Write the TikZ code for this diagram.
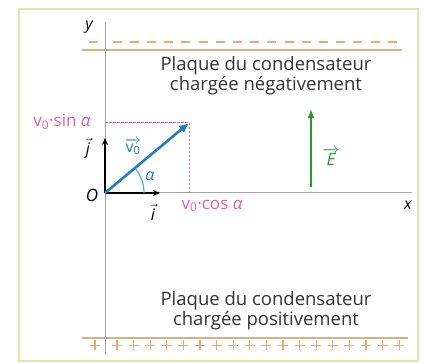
\RequirePackage{fix-cm}
\documentclass[tikz,border=0pt]{standalone}
\usepackage{fontspec}
\setmainfont{Open Sans}
\usetikzlibrary{arrows.meta}
\definecolor{framegreen}{RGB}{220,232,165}
\definecolor{platetan}{RGB}{215,178,135}
\definecolor{chargeorange}{RGB}{236,170,115}
\definecolor{axisgray}{RGB}{165,165,165}
\definecolor{comppink}{RGB}{228,95,155}
\definecolor{speedblue}{RGB}{35,125,190}
\definecolor{anglecyan}{RGB}{85,175,205}
\definecolor{fieldgreen}{RGB}{45,150,50}
\begin{document}
\begin{tikzpicture}[x=1pt,y=-1pt]
        \tikzstyle{axis}=[draw=axisgray, line width=1pt]
        \tikzstyle{plate}=[draw=platetan, line width=1.6pt]
        \tikzstyle{charge}=[draw=chargeorange, line width=1.2pt]
        \tikzstyle{platetext}=[align=center, text=black!80, font=\fontsize{18.5}{15.5}\selectfont]
        \tikzstyle{unit}=[draw=black, line width=1.2pt, -{Stealth[length=7pt,width=6pt]}]
        \tikzstyle{comp}=[text=comppink, font=\fontsize{17}{17}\selectfont]
        \tikzstyle{axislabel}=[font=\fontsize{16}{16}\selectfont\itshape]
        \useasboundingbox (0,0) rectangle (429,363);
        \draw[draw=framegreen, line width=1.5pt] (19,9) rectangle (418,361);
        \begin{scope}
                % plaque negative
                \coordinate (nl) at (82,50);
                \coordinate (nr) at (402,50);
                \draw[plate] (nl) -- (nr);
                \draw[charge] (88.5,42) -- ++(9,0);
                \foreach \k in {0,...,16}
                        \draw[charge] ({112.5+17.2*\k},42) -- ++(9,0);
                \node [platetext] (ntext) at (266,76) {Plaque du condensateur\\chargée négativement};
                % plaque positive
                \coordinate (pl) at (82,338);
                \coordinate (pr) at (408,338);
                \draw[plate] (pl) -- (pr);
                \draw[charge] (90,345.5) -- ++(10,0) (95,340.5) -- ++(0,10);
                \foreach \k in {0,...,17}
                        \draw[charge] ({112+16.6*\k},345.5) -- ++(10,0) ({117+16.6*\k},340.5) -- ++(0,10);
                \node [platetext] (ptext) at (266,311) {Plaque du condensateur\\chargée positivement};
        \end{scope}
        \begin{scope}
                % axes
                \coordinate (O) at (105,193);
                \coordinate (ytop) at (105,22);
                \coordinate (ybot) at (105,355);
                \coordinate (xend) at (412,193);
                \draw[axis] (ytop) -- (ybot);
                \draw[axis] (O) -- (xend);
                \node [axislabel] (ylab) at (89,27) {y};
                \node [axislabel] (xlab) at (408,205) {x};
                \node [axislabel, font=\fontsize{17}{17}\selectfont\itshape] (Olab) at (92,195) {O};
                % vecteurs unitaires
                \coordinate (itip) at (160,193);
                \coordinate (jtip) at (105,138);
                \draw[unit] (O) -- (itip);
                \draw[unit] (O) -- (jtip);
                \node [font=\fontsize{16}{16}\selectfont] (ilab) at (153,212) {$\vec{\mbox{\itshape i}}$};
                \node [font=\fontsize{16}{16}\selectfont] (jlab) at (88,148) {$\vec{\mbox{\itshape j}}$};
                % vitesse initiale
                \coordinate (P) at (189,123);
                \coordinate (Px) at (O -| P);
                \coordinate (Py) at (O |- P);
                \draw[draw=comppink, line width=1pt, dash pattern=on 2.5pt off 1.5pt] (Py) -- (P) -- (Px);
                \draw[draw=anglecyan, line width=1.2pt] (O) ++(39,0) arc[start angle=0, end angle=-40, radius=39];
                \node [text=speedblue, font=\fontsize{16}{16}\selectfont] (alab) at (150,176) {\itshape α};
                \draw[draw=speedblue, line width=2.6pt, -{Latex[length=10pt,width=9pt]}] (O) -- (P);
                \node [text=speedblue, font=\fontsize{16}{16}\selectfont] (vlab) at (133,147) {$\overrightarrow{\mbox{v\textsubscript{0}}}$};
                \node [comp] (vsin) at (62,122) {v\textsubscript{0}·sin \textit{α}};
                \node [comp] (vcos) at (212,206) {v\textsubscript{0}·cos \textit{α}};
                % champ electrique
                \coordinate (Ebot) at (311,187);
                \coordinate (Etop) at (311,109);
                \draw[draw=fieldgreen, line width=1.5pt, -{Latex[length=9pt,width=7pt]}] (Ebot) -- (Etop);
                \node [text=fieldgreen, font=\fontsize{17}{17}\selectfont] (Elab) at (331,157) {$\overrightarrow{\mbox{\itshape E}}$};
        \end{scope}
\end{tikzpicture}
\end{document}
